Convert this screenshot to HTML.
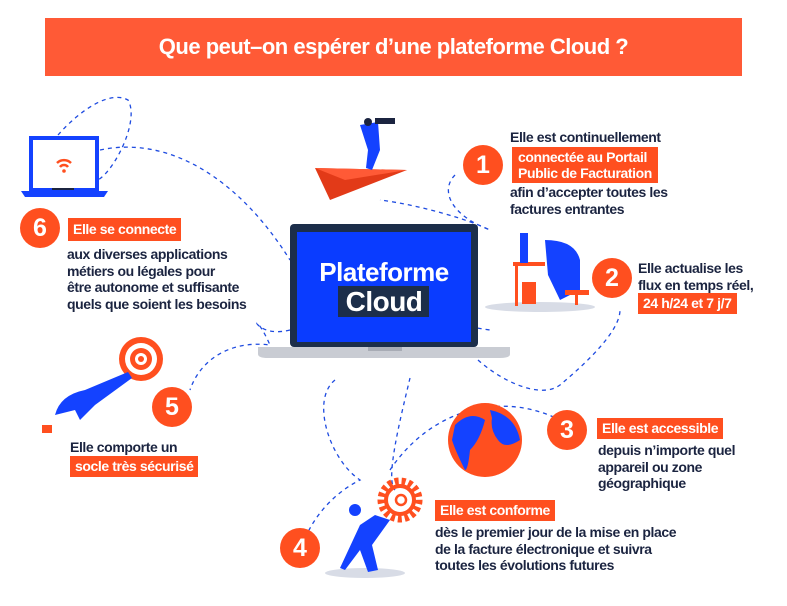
<!DOCTYPE html>
<html><head><meta charset="utf-8"><style>
body{margin:0;width:787px;height:606px;background:#fff;position:relative;overflow:hidden;font-family:"Liberation Sans",sans-serif;}
.a{position:absolute;}
.t{position:absolute;color:#1b2440;font-size:14px;font-weight:bold;letter-spacing:-0.4px;line-height:16.5px;white-space:nowrap;}
.b{position:absolute;background:#ff4f1f;color:#fff;font-size:14px;font-weight:bold;letter-spacing:-0.4px;line-height:17px;padding:3px 5px;white-space:nowrap;}
.c{position:absolute;width:40px;height:40px;border-radius:50%;background:#ff4f1f;color:#fff;font-weight:bold;font-size:25px;text-align:center;line-height:40px;}
</style></head><body>
<div class="a" style="left:45px;top:18px;width:697px;height:58px;background:#ff5a36;color:#fff;font-weight:bold;font-size:22px;text-align:center;line-height:58px;letter-spacing:-0.5px">Que peut–on espérer d’une plateforme Cloud ?</div>
<svg class="a" style="left:0;top:0" width="787" height="606">
<g fill="none" stroke="#1e4be0" stroke-width="1.3" stroke-dasharray="4,4">
<path d="M58 135 C80 110 110 90 128 100 C140 120 115 170 98 180"/>
<path d="M100 150 C170 135 240 180 290 260"/>
<path d="M380 333 C430 300 420 290 380 295 C370 300 420 320 490 330"/>
<path d="M455 175 C440 190 450 215 490 230 C470 220 420 205 380 200"/>
<path d="M290 330 C250 340 250 300 270 345 C230 340 200 360 190 390"/>
<path d="M335 380 C310 400 330 460 360 480 C320 500 300 540 300 560"/>
<path d="M410 378 C400 420 385 480 395 490"/>
<path d="M478 360 C500 380 540 400 560 385 C590 360 620 330 620 310"/>
<path d="M390 470 C430 410 500 390 560 420"/>
</g>
<rect x="31" y="138" width="66" height="52" fill="#fff" stroke="#1442ff" stroke-width="4"/>
<path d="M21 191 H108 L104 197 H25 Z" fill="#1442ff"/>
<rect x="52" y="188" width="22" height="2" fill="#1b2440"/>
<g fill="none" stroke="#ff4f1f" stroke-width="2.5"><path d="M57 163 a10 10 0 0 1 14 0"/><path d="M60 167 a5 5 0 0 1 8 0"/></g>
<circle cx="64" cy="171" r="1.8" fill="#ff4f1f"/>
<rect x="290" y="224" width="188" height="123" rx="4" fill="#1c2e4a"/>
<rect x="297" y="232" width="174" height="110" fill="#0a3cff"/>
<path d="M258 347 H510 V354 Q510 358 500 358 H268 Q258 358 258 354 Z" fill="#c9ccd3"/>
<rect x="368" y="347" width="34" height="4" fill="#a8acb5"/>
<rect x="338" y="286" width="91" height="31" fill="#1c2e4a"/>
<text x="384" y="281" fill="#fff" font-family="Liberation Sans" font-weight="bold" font-size="26" text-anchor="middle" letter-spacing="-0.5">Plateforme</text>
<text x="384" y="311" fill="#fff" font-family="Liberation Sans" font-weight="bold" font-size="28" text-anchor="middle" letter-spacing="-0.5">Cloud</text>
<path d="M315 168 L407 170 L330 200 Z" fill="#e23a18"/><path d="M315 168 L407 170 L345 180 Z" fill="#ff5a36"/>
<path d="M360 125 L378 122 L380 150 L372 170 L366 168 L368 150 Z" fill="#1442ff"/><circle cx="368" cy="122" r="4" fill="#1b2440"/>
<rect x="375" y="118" width="20" height="6" fill="#1b2440"/>
<ellipse cx="540" cy="307" rx="55" ry="5" fill="#d8dce6"/>
<rect x="513" y="262" width="32" height="4" fill="#ff4f1f"/><rect x="515" y="266" width="3" height="40" fill="#ff4f1f"/>
<rect x="522" y="282" width="14" height="22" fill="#ff4f1f"/>
<rect x="520" y="233" width="8" height="30" fill="#1442ff"/>
<path d="M545 240 Q575 240 580 260 L580 290 L560 300 L548 275 Z" fill="#1442ff"/>
<rect x="565" y="290" width="24" height="5" fill="#ff4f1f"/><rect x="575" y="295" width="3" height="10" fill="#ff4f1f"/>
<circle cx="485" cy="440" r="37" fill="#ff4f1f"/>
<path d="M455 425 Q470 410 485 420 Q480 440 470 450 Q468 470 465 470 Q455 450 452 440 Z M490 410 Q515 415 520 440 Q505 450 498 440 Q490 430 492 418 Z" fill="#1442ff"/>
<circle cx="400" cy="500" r="19" fill="none" stroke="#ff4f1f" stroke-width="7" stroke-dasharray="4,3"/>
<circle cx="400" cy="500" r="14" fill="none" stroke="#ff4f1f" stroke-width="4"/>
<circle cx="401" cy="500" r="5" fill="none" stroke="#ff4f1f" stroke-width="2.5"/>
<ellipse cx="365" cy="573" rx="40" ry="5" fill="#d8dce6"/>
<path d="M360 525 L375 515 L390 520 L372 545 L378 570 L368 572 L360 550 L345 570 L340 568 Z" fill="#1442ff"/>
<circle cx="355" cy="510" r="6" fill="#1442ff"/>
<circle cx="141" cy="359" r="22" fill="#ff4f1f"/><circle cx="141" cy="359" r="16" fill="#fff"/><circle cx="141" cy="359" r="11" fill="#ff4f1f"/><circle cx="141" cy="359" r="6" fill="#fff"/><circle cx="141" cy="359" r="3" fill="#ff4f1f"/>
<path d="M55 415 Q60 395 85 390 L128 372 L132 378 L95 405 L80 420 L75 410 Z" fill="#1442ff"/>
<rect x="42" y="425" width="10" height="8" fill="#ff4f1f"/>
</svg>
<div class="c" style="left:20px;top:208px">6</div>
<div class="b" style="left:68px;top:218px">Elle se connecte</div>
<div class="t" style="left:67px;top:246px">aux diverses applications<br>métiers ou légales pour<br>être autonome et suffisante<br>quels que soient les besoins</div>
<div class="c" style="left:463px;top:145px">1</div>
<div class="t" style="left:510px;top:129px">Elle est continuellement</div>
<div class="b" style="left:512px;top:147px;line-height:16px;padding:2px 6px">connectée au Portail<br>Public de Facturation</div>
<div class="t" style="left:510px;top:184px">afin d’accepter toutes les<br>factures entrantes</div>
<div class="c" style="left:592px;top:258px">2</div>
<div class="t" style="left:638px;top:260px">Elle actualise les<br>flux en temps réel,</div>
<div class="b" style="left:638px;top:293px;padding:2px 5px">24 h/24 et 7 j/7</div>
<div class="c" style="left:547px;top:410px">3</div>
<div class="b" style="left:597px;top:418px;padding:2px 5px">Elle est accessible</div>
<div class="t" style="left:598px;top:442px">depuis n’importe quel<br>appareil ou zone<br>géographique</div>
<div class="c" style="left:280px;top:528px">4</div>
<div class="b" style="left:435px;top:500px;padding:2px 5px">Elle est conforme</div>
<div class="t" style="left:435px;top:524px">dès le premier jour de la mise en place<br>de la facture électronique et suivra<br>toutes les évolutions futures</div>
<div class="c" style="left:152px;top:387px">5</div>
<div class="t" style="left:70px;top:439px">Elle comporte un</div>
<div class="b" style="left:70px;top:456px;padding:2px 5px">socle très sécurisé</div>
</body></html>
